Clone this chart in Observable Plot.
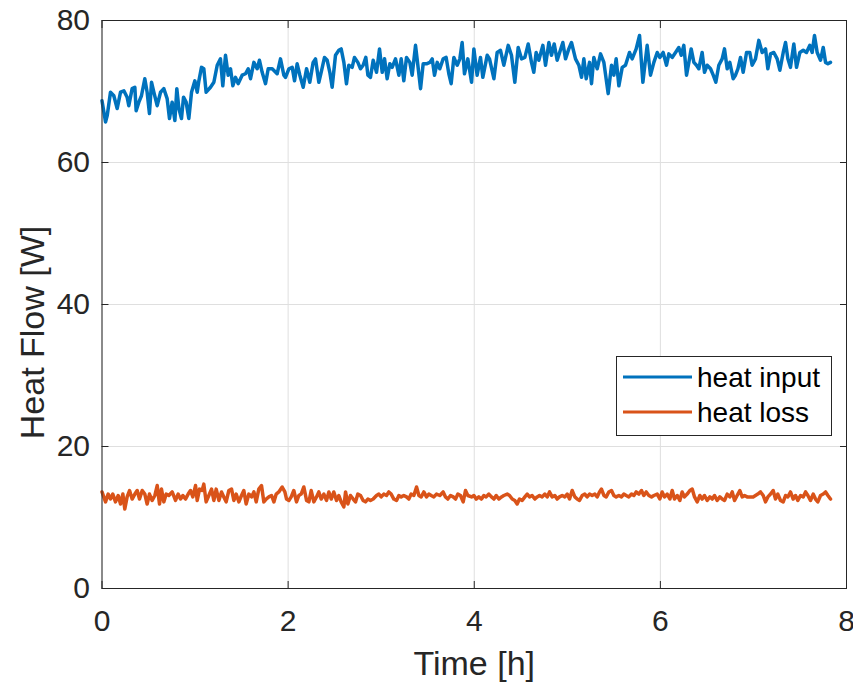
<!DOCTYPE html>
<html><head><meta charset="utf-8">
<script src="https://cdn.jsdelivr.net/npm/d3@7"></script>
<script src="https://cdn.jsdelivr.net/npm/@observablehq/plot@0.6"></script>
<style>
body{margin:0;background:#fff;}
#chart{width:853px;height:688px;}
</style></head><body><div id="chart"></div>
<script>
// time [h], heat flow [W]
const heatInput = [
[0.00,68.7],[0.038,65.7],[0.056,66.6],[0.091,69.9],[0.127,69.4],[0.163,67.6],[0.199,69.9],[0.235,70.1],[0.270,69.2],[0.288,68.0],
[0.324,70.4],[0.353,70.6],[0.367,67.3],[0.396,68.5],[0.424,69.4],[0.460,71.8],[0.485,69.9],[0.510,66.9],[0.532,71.3],[0.557,69.9],
[0.593,68.0],[0.629,69.9],[0.664,70.4],[0.700,69.0],[0.725,66.2],[0.754,68.5],[0.783,65.9],[0.804,70.4],[0.826,67.6],[0.854,66.2],
[0.876,69.2],[0.904,68.5],[0.933,66.2],[0.962,69.9],[0.998,71.5],[1.023,69.9],[1.041,71.5],[1.069,73.4],[1.094,73.2],[1.119,69.9],
[1.166,70.6],[1.202,71.3],[1.238,73.7],[1.273,74.6],[1.298,70.8],[1.327,75.1],[1.356,72.3],[1.381,73.2],[1.406,70.8],[1.435,72.0],
[1.463,71.1],[1.506,72.3],[1.542,72.5],[1.571,73.2],[1.596,71.8],[1.632,74.1],[1.667,73.2],[1.692,74.4],[1.721,72.7],[1.757,71.1],
[1.786,73.2],[1.829,73.2],[1.882,72.5],[1.918,74.6],[1.954,72.3],
[1.972,72.0],[2.008,73.2],[2.044,73.4],[2.069,71.5],[2.097,73.9],[2.126,72.3],[2.162,70.6],[2.198,73.2],[2.233,71.3],[2.269,74.1],
[2.294,74.6],[2.330,71.3],[2.355,72.7],[2.391,74.8],[2.420,74.4],[2.448,72.7],[2.473,70.6],[2.509,75.1],[2.545,75.8],[2.570,76.0],
[2.599,74.1],[2.627,71.1],[2.652,73.7],[2.688,73.4],[2.713,74.8],[2.749,74.1],[2.778,73.2],[2.806,73.7],[2.835,74.8],[2.857,72.3],
[2.885,72.0],[2.914,74.4],[2.950,72.7],[2.982,76.0],[3.011,72.7],[3.036,74.6],[3.064,71.8],[3.093,73.9],[3.118,73.4],[3.154,74.6],
[3.190,72.3],[3.215,74.6],[3.243,71.5],[3.272,74.8],[3.308,74.1],[3.333,72.3],[3.369,76.5],[3.394,73.7],[3.423,70.4],[3.451,73.9],
[3.487,73.9],[3.523,74.1],[3.548,74.6],[3.573,72.3],[3.602,74.1],[3.630,73.2],[3.666,74.6],[3.698,74.8],[3.727,72.5],[3.752,71.1],
[3.781,74.8],[3.817,73.7],[3.845,74.6],[3.870,76.9],[3.895,72.5],[3.931,74.6],
[3.971,71.3],[3.996,76.0],[4.031,72.3],[4.067,74.8],[4.092,72.0],[4.139,75.1],[4.164,74.6],[4.211,71.8],[4.246,75.5],[4.282,75.8],
[4.318,73.7],[4.365,76.5],[4.400,75.1],[4.436,71.3],[4.472,76.2],[4.508,74.6],[4.544,74.8],[4.580,76.7],[4.615,74.1],[4.640,72.7],
[4.665,75.5],[4.694,74.4],[4.737,76.5],[4.766,73.7],[4.802,76.9],[4.830,75.1],[4.859,76.7],[4.891,74.4],[4.952,76.9],[4.981,74.6],
[5.016,76.0],[5.045,76.9],[5.088,74.6],[5.124,73.7],[5.153,72.0],[5.178,74.6],[5.203,71.8],[5.239,74.1],[5.260,71.1],[5.285,74.8],
[5.321,73.2],[5.357,75.3],[5.393,74.1],[5.439,69.7],[5.475,73.7],[5.500,72.3],[5.525,74.6],[5.554,70.8],[5.590,73.4],[5.625,73.7],
[5.668,75.5],[5.697,74.6],[5.740,76.0],[5.776,77.9],[5.812,71.3],[5.858,76.5],[5.894,72.3],[5.930,74.1],
[5.966,75.5],[5.994,74.8],[6.030,75.5],[6.066,73.7],[6.091,75.3],[6.127,74.8],[6.163,75.5],[6.198,76.2],[6.224,75.1],[6.252,76.5],
[6.281,72.3],[6.306,74.1],[6.331,76.0],[6.360,74.1],[6.388,73.7],[6.413,73.2],[6.449,75.5],[6.474,72.7],[6.503,73.7],[6.539,73.2],
[6.568,72.3],[6.596,71.3],[6.628,73.7],[6.664,74.6],[6.689,76.0],[6.718,73.2],[6.746,74.1],[6.782,71.8],[6.807,72.3],[6.833,73.2],
[6.861,74.8],[6.890,72.7],[6.926,75.5],[6.961,75.5],[6.986,73.7],[7.022,74.6],[7.058,77.2],[7.094,75.5],[7.130,76.0],[7.155,73.2],
[7.184,75.3],[7.219,75.5],[7.255,74.6],[7.284,73.0],[7.320,75.5],[7.345,76.9],[7.370,74.6],[7.398,73.4],[7.434,76.7],[7.463,73.4],
[7.499,75.5],[7.535,75.8],[7.570,75.5],[7.606,76.5],[7.631,75.5],[7.656,77.9],[7.685,75.5],[7.721,74.4],[7.750,76.2],[7.775,74.1],
[7.800,73.9],[7.828,74.1]
];

const heatLoss = [
[0.00,13.6],[0.038,12.2],[0.066,13.3],[0.091,12.6],[0.116,13.3],[0.145,12.2],[0.174,13.1],[0.199,11.9],[0.224,13.3],[0.245,11.2],
[0.270,12.9],[0.296,13.8],[0.324,12.6],[0.353,13.3],[0.378,13.8],[0.403,12.6],[0.432,13.8],[0.460,13.3],[0.485,11.9],[0.510,13.3],
[0.539,12.4],[0.568,13.1],[0.593,14.5],[0.618,11.9],[0.639,14.0],[0.664,12.2],[0.690,13.3],[0.718,13.1],[0.754,13.6],[0.790,12.4],
[0.818,13.3],[0.844,12.6],[0.869,13.1],[0.897,12.6],[0.926,13.3],[0.951,13.8],[0.976,12.9],[1.005,14.5],[1.023,12.4],[1.048,14.0],
[1.076,13.8],[1.094,14.7],[1.119,12.2],[1.148,13.1],[1.177,14.0],[1.202,12.4],[1.227,14.0],[1.256,12.4],[1.284,13.6],[1.309,12.9],
[1.334,12.2],[1.363,13.8],[1.392,14.0],[1.417,12.4],[1.442,13.3],[1.471,12.2],[1.499,13.1],[1.524,13.8],[1.549,11.9],[1.578,13.3],
[1.607,12.9],[1.632,13.6],[1.657,12.2],[1.685,14.0],[1.714,14.5],[1.739,12.2],[1.764,12.6],[1.793,12.9],[1.822,13.1],[1.847,12.2],
[1.872,13.3],[1.900,13.6],[1.936,14.3],[1.965,13.6],
[1.983,12.6],[2.008,12.4],[2.033,12.9],[2.061,13.8],[2.090,12.2],[2.115,13.1],[2.140,13.3],[2.169,14.3],[2.198,12.4],[2.223,12.2],
[2.248,13.8],[2.276,12.2],[2.305,12.9],[2.330,13.6],[2.355,12.6],[2.384,13.3],[2.412,12.4],[2.438,13.6],[2.463,12.6],[2.491,13.6],
[2.520,12.4],[2.545,13.1],[2.570,12.2],[2.599,11.5],[2.617,13.6],[2.642,11.9],[2.670,13.1],[2.699,12.6],[2.724,12.2],[2.749,13.3],
[2.778,13.1],[2.806,12.4],[2.831,12.2],[2.857,12.6],[2.885,12.4],[2.914,12.6],[2.950,13.1],[2.975,13.3],[3.000,12.9],[3.028,13.3],
[3.057,13.1],[3.082,13.6],[3.107,13.3],[3.136,12.6],[3.165,12.4],[3.190,13.1],[3.215,12.9],[3.243,13.1],[3.272,12.9],[3.297,12.6],
[3.322,13.3],[3.351,13.1],[3.380,14.3],[3.405,13.1],[3.430,12.9],[3.458,13.6],[3.487,12.9],[3.512,13.3],[3.537,13.1],[3.566,12.9],
[3.594,13.3],[3.630,13.1],[3.666,13.6],[3.691,12.9],[3.716,12.6],[3.745,13.1],[3.774,12.9],[3.799,12.6],[3.824,13.3],[3.852,13.1],
[3.881,12.2],[3.906,13.8],[3.931,13.1],
[3.971,12.9],[3.996,13.1],[4.021,12.6],[4.049,12.9],[4.078,12.6],[4.103,13.1],[4.128,12.9],[4.157,13.3],[4.185,12.9],[4.211,12.6],
[4.236,13.1],[4.264,12.6],[4.293,12.9],[4.318,13.1],[4.354,13.3],[4.379,13.1],[4.408,12.6],[4.436,12.4],[4.461,11.9],[4.486,12.6],
[4.515,12.4],[4.544,12.9],[4.569,13.3],[4.594,12.9],[4.622,13.1],[4.651,12.6],[4.676,12.9],[4.701,13.1],[4.730,12.9],[4.759,13.3],
[4.784,12.9],[4.809,13.6],[4.837,12.9],[4.866,13.1],[4.891,12.6],[4.916,12.9],[4.945,13.1],[4.973,12.9],[4.999,13.3],[5.024,12.6],
[5.052,13.8],[5.081,12.9],[5.106,12.6],[5.131,12.4],[5.160,13.1],[5.188,13.3],[5.213,12.9],[5.239,13.3],[5.267,13.1],[5.296,13.3],
[5.321,12.9],[5.346,13.6],[5.367,14.0],[5.393,13.1],[5.418,12.9],[5.446,13.6],[5.475,13.8],[5.500,13.1],[5.525,12.9],[5.554,13.1],
[5.582,12.9],[5.607,13.3],[5.633,13.1],[5.661,12.9],[5.690,13.3],[5.715,13.1],[5.740,13.6],[5.769,13.3],[5.797,13.8],[5.822,13.1],
[5.848,13.6],[5.876,13.1],[5.905,12.9],[5.930,13.1],
[5.966,13.3],[5.994,12.6],[6.019,13.6],[6.045,12.9],[6.073,13.3],[6.102,12.6],[6.127,13.8],[6.152,12.6],[6.181,13.1],[6.209,12.4],
[6.234,13.6],[6.259,12.9],[6.288,13.3],[6.317,13.8],[6.342,14.0],[6.367,12.9],[6.396,12.2],[6.424,13.1],[6.449,12.6],[6.474,13.1],
[6.503,12.4],[6.532,12.9],[6.557,12.6],[6.582,13.1],[6.610,12.4],[6.639,12.9],[6.664,12.6],[6.689,12.4],[6.718,13.3],[6.746,12.9],
[6.772,13.6],[6.797,12.4],[6.825,13.1],[6.854,13.8],[6.879,12.9],[6.904,13.1],[6.933,12.9],[6.961,12.9],[6.997,12.9],[7.022,13.1],
[7.047,13.3],[7.076,13.6],[7.105,13.1],[7.130,12.2],[7.155,12.9],[7.184,13.3],[7.212,13.8],[7.237,12.6],[7.262,13.3],[7.291,12.4],
[7.320,12.2],[7.345,13.1],[7.370,12.9],[7.398,13.6],[7.427,12.6],[7.452,13.1],[7.477,12.4],[7.506,13.1],[7.535,12.9],[7.560,13.6],
[7.585,13.1],[7.613,12.4],[7.642,13.3],[7.667,12.6],[7.692,12.2],[7.721,13.1],[7.750,13.3],[7.775,13.6],[7.800,13.1],[7.828,12.6]
];

const xTicks = [0, 2, 4, 6, 8];
const yTicks = [0, 20, 40, 60, 80];
const seriesNames = ["heat input", "heat loss"];
const seriesColors = ["#0072BD", "#D95319"];
const xLabel = "Time [h]";
const yLabel = "Heat Flow [W]";

const font = "'Liberation Sans', Arial, Helvetica, sans-serif";
const ink = "#262626";
const W = 853, H = 688;
const mL = 101.5, mR = 7, mT = 20, mB = 100;

const chart = Plot.plot({
  width: W, height: H,
  marginLeft: mL, marginRight: mR, marginTop: mT, marginBottom: mB,
  style: {fontFamily: font, color: ink, background: "#fff", overflow: "visible"},
  x: {domain: [0, 8]},
  y: {domain: [0, 80]},
  marks: [
    Plot.gridX(xTicks, {stroke: "#dfdfdf", strokeOpacity: 1}),
    Plot.gridY(yTicks, {stroke: "#dfdfdf", strokeOpacity: 1}),
    Plot.line(heatInput, {x: d => d[0], y: d => d[1], stroke: seriesColors[0], strokeWidth: 3.5, strokeLinejoin: "round", strokeLinecap: "round"}),
    Plot.line(heatLoss, {x: d => d[0], y: d => d[1], stroke: seriesColors[1], strokeWidth: 3.5, strokeLinejoin: "round", strokeLinecap: "round"}),
    Plot.frame({stroke: ink, strokeWidth: 1}),
    // inward ticks on all four sides
    Plot.axisX(xTicks, {anchor: "bottom", tickSize: 7, dy: -7, fill: "none", stroke: ink, label: null}),
    Plot.axisX(xTicks, {anchor: "top", tickSize: 7, dy: 7, fill: "none", stroke: ink, label: null}),
    Plot.axisY(yTicks, {anchor: "left", tickSize: 7, dx: 7, fill: "none", stroke: ink, label: null}),
    Plot.axisY(yTicks, {anchor: "right", tickSize: 7, dx: -7, fill: "none", stroke: ink, label: null}),
    // tick labels
    Plot.axisX(xTicks, {anchor: "bottom", tickSize: 0, tickPadding: 21, fontSize: 30, fill: ink, label: null}),
    Plot.axisY(yTicks, {anchor: "left", tickSize: 0, tickPadding: 12, fontSize: 30, fill: ink, label: null}),
    // axis titles
    Plot.text([xLabel], {frameAnchor: "bottom", textAnchor: "middle", lineAnchor: "middle", dy: 76, fontSize: 34, fill: ink}),
    Plot.text([yLabel], {frameAnchor: "left", textAnchor: "middle", lineAnchor: "middle", rotate: -90, dx: -69, dy: 28, fontSize: 34, fill: ink})
  ]
});

// legend box inside the axes
const svg = d3.select(chart);
const lg = svg.append("g").attr("font-family", font).attr("font-size", 28).attr("fill", "#000").attr("text-anchor", "start");
lg.append("rect").attr("x", 616.5).attr("y", 356.5).attr("width", 215).attr("height", 79)
  .attr("fill", "#fff").attr("stroke", ink).attr("stroke-width", 1);
seriesNames.forEach((name, i) => {
  const cy = 377 + i * 35;
  lg.append("line").attr("x1", 623).attr("x2", 692).attr("y1", cy).attr("y2", cy)
    .attr("stroke", seriesColors[i]).attr("stroke-width", 3);
  lg.append("text").attr("x", 697).attr("y", cy).attr("dy", "0.35em").attr("text-anchor", "start").text(name);
});

document.getElementById("chart").appendChild(chart);
</script>
</body></html>
